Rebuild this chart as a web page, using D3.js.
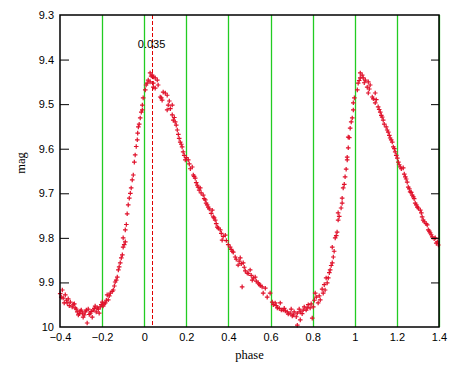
<!DOCTYPE html>
<meta charset="utf-8">
<script src="https://d3js.org/d3.v7.min.js"></script>
<style>
  body { margin: 0; background: #fff; }
  .tick text { font-family: "Liberation Sans", Arial, sans-serif; font-size: 11px; }
</style>
<div id="chart"></div>
<script>
var phase = [
  -0.394,-0.389,-0.385,-0.380,-0.375,-0.366,-0.361,-0.351,-0.342,-0.332,-0.328,-0.318,-0.313,-0.304,-0.294,-0.290,-0.280,-0.271,-0.266,-0.256,
  -0.247,-0.242,-0.233,-0.223,-0.214,-0.209,-0.199,-0.195,-0.185,-0.176,-0.171,-0.161,-0.147,-0.138,-0.128,-0.123,-0.114,-0.104,-0.100,-0.100,
  -0.090,-0.090,-0.081,-0.076,-0.071,-0.062,-0.057,-0.052,-0.047,-0.043,-0.033,-0.028,-0.024,-0.019,-0.014,-0.009,-0.009,-0.005,
  0.005,0.009,0.014,0.019,0.028,0.028,0.033,0.038,0.043,0.043,0.043,0.052,0.052,0.062,0.066,0.076,0.081,0.085,0.090,0.100,
  0.109,0.109,0.114,0.133,0.133,0.138,0.147,0.157,0.171,0.180,0.185,0.195,0.209,0.228,0.233,0.242,0.256,0.266,0.280,0.290,
  0.304,0.323,0.328,0.337,0.347,0.361,0.370,0.385,0.408,0.423,0.432,0.446,0.456,0.465,0.470,0.489,0.503,0.513,0.527,0.541,
  0.560,0.565,0.575,0.584,0.598,0.608,0.622,0.632,0.646,0.660,0.679,0.693,0.708,0.727,0.727,0.741,0.741,0.755,0.774,0.788,
  0.798,0.803,0.812,0.826,0.836,0.850,0.859,0.869,0.874,0.883,0.893,0.893,0.898,0.907,0.916,0.921,0.921,0.940,0.940,0.945,
  0.954,0.964,0.964,0.969,0.969,0.978,0.988,0.993,0.993,0.998,
  1.012,1.016,1.026,1.026,1.035,1.040,1.050,1.059,1.064,1.064,1.073,1.083,1.097,1.097,1.111,1.121,1.130,1.135,1.154,1.159,
  1.168,1.178,1.183,1.192,1.202,1.207,1.216,1.230,1.240,1.249,1.254,1.263,1.273,1.278,1.287,1.297,1.311,1.320,1.325,1.344,
  1.349,1.358,1.368,1.382,1.392,1.397,
  0.119,0.124,0.143,0.152,0.162,0.166,0.176,0.190,0.200,0.214,0.219,0.237,0.247,0.252,0.261,0.270,0.285,0.294,0.299,0.309,
  0.318,0.332,0.342,0.352,0.366,0.375,0.390,0.399,0.413,0.418,0.437,0.451,0.461,0.475,0.480,0.494,0.508,0.518,0.532,0.546,0.551,
  0.613,0.627,0.641,0.651,0.665,0.670,0.684,0.698,0.703,0.712,0.722,0.736,0.750,0.760,0.769,0.779,0.793,
  0.808,0.817,0.831,0.845,0.855,0.864,0.879,0.888,0.902,0.912,0.926,0.935,0.950,0.959,0.974,0.983,
  1.021,1.045,1.069,1.088,1.102,1.116,1.126,1.140,1.149,1.164,1.173,1.188,1.197,1.211,1.221,1.235,1.244,1.259,1.268,1.282,
  1.292,1.302,1.316,1.330,1.339,1.354,1.363,1.377,1.387,
  -0.399,-0.370,-0.356,-0.337,-0.323,-0.308,-0.299,-0.285,-0.275,-0.261,-0.252,-0.237,-0.228,-0.218,-0.204,-0.190,-0.180,-0.166,
  -0.152,-0.142,-0.133,-0.119,-0.109,-0.095,-0.085,-0.066,-0.038,-0.031
];
var mag = [
  9.933,9.917,9.935,9.946,9.928,9.946,9.937,9.944,9.955,9.948,9.957,9.966,9.973,9.964,9.969,9.978,9.966,9.991,9.960,9.969,
  9.978,9.962,9.953,9.957,9.969,9.955,9.944,9.953,9.946,9.928,9.939,9.924,9.917,9.899,9.888,9.872,9.856,9.838,9.821,9.800,
  9.809,9.782,9.746,9.726,9.711,9.688,9.670,9.659,9.630,9.614,9.580,9.551,9.545,9.531,9.518,9.513,9.502,9.486,
  9.468,9.457,9.453,9.446,9.430,9.450,9.437,9.435,9.439,9.453,9.462,9.441,9.464,9.446,9.457,9.484,9.486,9.491,9.473,9.475,
  9.480,9.513,9.502,9.502,9.524,9.536,9.540,9.558,9.585,9.596,9.607,9.625,9.625,9.641,9.659,9.666,9.686,9.688,9.704,9.715,
  9.731,9.738,9.753,9.760,9.776,9.782,9.805,9.794,9.821,9.832,9.843,9.861,9.845,9.910,9.856,9.879,9.872,9.895,9.888,9.901,
  9.910,9.924,9.913,9.933,9.924,9.944,9.946,9.957,9.946,9.962,9.966,9.969,9.973,9.969,9.996,9.966,9.984,9.962,9.957,9.957,
  9.980,9.955,9.924,9.946,9.939,9.924,9.917,9.901,9.890,9.872,9.856,9.821,9.843,9.800,9.787,9.760,9.744,9.722,9.711,9.688,
  9.663,9.625,9.619,9.598,9.574,9.554,9.531,9.513,9.497,9.486,
  9.468,9.453,9.441,9.430,9.435,9.441,9.446,9.462,9.450,9.475,9.457,9.484,9.475,9.497,9.506,9.518,9.529,9.536,9.558,9.563,
  9.576,9.585,9.596,9.607,9.621,9.630,9.641,9.643,9.663,9.675,9.686,9.697,9.704,9.708,9.722,9.731,9.738,9.753,9.760,9.771,
  9.782,9.789,9.798,9.800,9.809,9.816,
  9.493,9.510,9.530,9.547,9.568,9.577,9.590,9.615,9.620,9.634,9.645,9.662,9.676,9.682,9.693,9.699,9.712,9.722,9.726,9.735,
  9.745,9.755,9.768,9.778,9.790,9.797,9.806,9.815,9.826,9.830,9.848,9.852,9.858,9.866,9.874,9.880,9.884,9.890,9.897,9.904,9.907,
  9.950,9.952,9.958,9.962,9.958,9.964,9.971,9.960,9.975,9.966,9.977,9.960,9.970,9.955,9.962,9.950,9.948,
  9.940,9.933,9.930,9.915,9.905,9.890,9.878,9.862,9.830,9.795,9.752,9.733,9.680,9.646,9.575,9.540,
  9.447,9.452,9.466,9.488,9.490,9.512,9.525,9.545,9.551,9.570,9.580,9.600,9.615,9.636,9.645,9.657,9.668,9.690,9.698,9.712,
  9.726,9.733,9.744,9.764,9.768,9.785,9.793,9.802,9.812,
  9.925,9.940,9.952,9.949,9.960,9.970,9.962,9.973,9.962,9.972,9.965,9.958,9.966,9.960,9.950,9.948,9.940,9.930,
  9.920,9.908,9.895,9.865,9.845,9.815,9.770,9.700,9.595,9.565
];
var gridPhases = [-0.2, 0, 0.2, 0.4, 0.6, 0.8, 1.0, 1.2, 1.4];
var xTicks = [-0.4, -0.2, 0, 0.2, 0.4, 0.6, 0.8, 1, 1.2, 1.4];
var yTicks = [9.3, 9.4, 9.5, 9.6, 9.7, 9.8, 9.9, 10];
var markPhase = 0.035;

var margin = {top: 15, left: 60},
    width = 379,
    height = 312;

var svg = d3.select("#chart").append("svg")
    .attr("width", 463).attr("height", 365)
  .append("g")
    .attr("transform", "translate(" + margin.left + "," + margin.top + ")");

var x = d3.scaleLinear().domain([-0.4, 1.4]).range([0, width]);
var y = d3.scaleLinear().domain([9.3, 10]).range([0, height]);

// green phase lines
svg.selectAll(".grid").data(gridPhases).enter().append("line")
    .attr("x1", function(d) { return Math.round(x(d)) + 0.5; })
    .attr("x2", function(d) { return Math.round(x(d)) + 0.5; })
    .attr("y1", 0).attr("y2", height)
    .attr("stroke", "#22cc22").attr("stroke-width", 1.3);

// dashed marker line
var mx = Math.round(x(markPhase)) + 0.5;
svg.append("line")
    .attr("x1", mx).attr("x2", mx)
    .attr("y1", 0).attr("y2", height)
    .attr("stroke", "#e00000").attr("stroke-width", 1)
    .attr("shape-rendering", "crispEdges")
    .attr("stroke-dasharray", "4,2");

svg.append("text")
    .attr("x", x(markPhase)).attr("y", 33)
    .attr("text-anchor", "middle")
    .style("font-family", "Liberation Sans, Arial, sans-serif").style("font-size", "11px")
    .text("0.035");

// data points as small plus marks
var pts = phase.map(function(p, i) { return {p: p, m: mag[i]}; });
svg.selectAll(".pt").data(pts).enter().append("path")
    .attr("transform", function(d) { return "translate(" + x(d.p) + "," + y(d.m) + ")"; })
    .attr("d", "M-2.3,0H2.3M0,-2.3V2.3")
    .attr("stroke", "#e0102a").attr("stroke-width", 1.2).attr("fill", "none");

// frame
svg.append("rect").attr("width", width).attr("height", height)
    .attr("fill", "none").attr("stroke", "#000").attr("stroke-width", 1.5);

// left axis: ticks inward
var yAx = svg.append("g")
    .call(d3.axisRight(y).tickValues(yTicks).tickSize(9).tickFormat(d3.format("")));
yAx.select(".domain").remove();
yAx.selectAll(".tick text").attr("x", -6).attr("text-anchor", "end");
yAx.selectAll(".tick line").filter(function(d) { return d === 9.3 || d === 10; }).remove();

// right axis ticks, no labels
var yAxR = svg.append("g").attr("transform", "translate(" + width + ",0)")
    .call(d3.axisLeft(y).tickValues(yTicks.slice(1, -1)).tickSize(8).tickFormat(""));
yAxR.select(".domain").remove();

// bottom labels
var xAx = svg.append("g").attr("transform", "translate(0," + height + ")")
    .call(d3.axisBottom(x).tickValues(xTicks).tickSize(0).tickPadding(6).tickFormat(d3.format("")));
xAx.select(".domain").remove();

svg.append("text")
    .attr("x", width / 2).attr("y", height + 32)
    .attr("text-anchor", "middle")
    .style("font-family", "Liberation Serif, Times New Roman, serif").style("font-size", "12.5px")
    .text("phase");

svg.append("text")
    .attr("transform", "translate(" + (-35) + "," + (height / 2 - 8) + ") rotate(-90)")
    .attr("text-anchor", "middle")
    .style("font-family", "Liberation Serif, Times New Roman, serif").style("font-size", "12.5px")
    .text("mag");
</script>
